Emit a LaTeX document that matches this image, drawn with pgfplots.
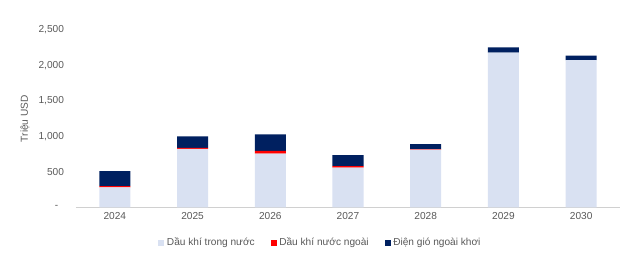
\documentclass[border=0pt]{standalone}
\usepackage{pgfplots}
\pgfplotsset{compat=1.18}
\usepackage{fontspec}
\setmainfont{Liberation Sans}
\definecolor{lightb}{HTML}{D9E1F2}
\definecolor{redc}{HTML}{FF0000}
\definecolor{navy}{HTML}{002060}
\definecolor{txt}{HTML}{595959}
\definecolor{axl}{HTML}{D0D0D0}
\begin{document}
\begin{tikzpicture}
\useasboundingbox (0,0) rectangle (480pt,202.5pt);
\begin{axis}[
  at={(57pt,47pt)}, anchor=south west,
  scale only axis, width=408pt, height=133pt,
  ybar stacked, bar width=23.3pt,
  xmin=-0.5, xmax=6.5, ymin=0, ymax=2500,
  xtick={0,...,6}, xticklabels={2024,2025,2026,2027,2028,2029,2030},
  ytick={0,500,1000,1500,2000,2500},
  yticklabels={-\hphantom{0},500,{1,000},{1,500},{2,000},{2,500}},
  axis x line*=bottom, axis y line*=left,
  x axis line style={draw=axl, line width=0.8pt, -},
  y axis line style={draw=none},
  xtick style={draw=none}, ytick style={draw=none},
  tick label style={font=\fontsize{7.6}{9}\selectfont, text=txt},
  /pgf/number format/assume math mode=true,
  ylabel={Triệu USD},
  ylabel style={at={(axis description cs:-0.094,0.5)}, anchor=center, font=\fontsize{7.6}{9}\selectfont, text=txt},
  yticklabel style={xshift=-5.5pt},
  legend columns=3,
  legend style={at={(axis description cs:0.45,-0.20)}, anchor=center, draw=none, font=\fontsize{7.6}{9}\selectfont, text=txt,
    /tikz/every even column/.append style={column sep=10pt}},
  legend image code/.code={\fill[#1] (0pt,-2.2pt) rectangle (4.4pt,2.2pt);},
  clip=false,
]
\addplot[fill=lightb, draw=none] coordinates {(0,280) (1,825) (2,757) (3,560) (4,815) (5,2180) (6,2075)};
\addplot[fill=redc, draw=none] coordinates {(0,20) (1,12) (2,38) (3,20) (4,5) (5,0) (6,0)};
\addplot[fill=navy, draw=none] coordinates {(0,210) (1,165) (2,232) (3,155) (4,70) (5,75) (6,65)};
\legend{Dầu khí trong nước, Dầu khí nước ngoài, Điện gió ngoài khơi}
\end{axis}
\end{tikzpicture}
\end{document}
